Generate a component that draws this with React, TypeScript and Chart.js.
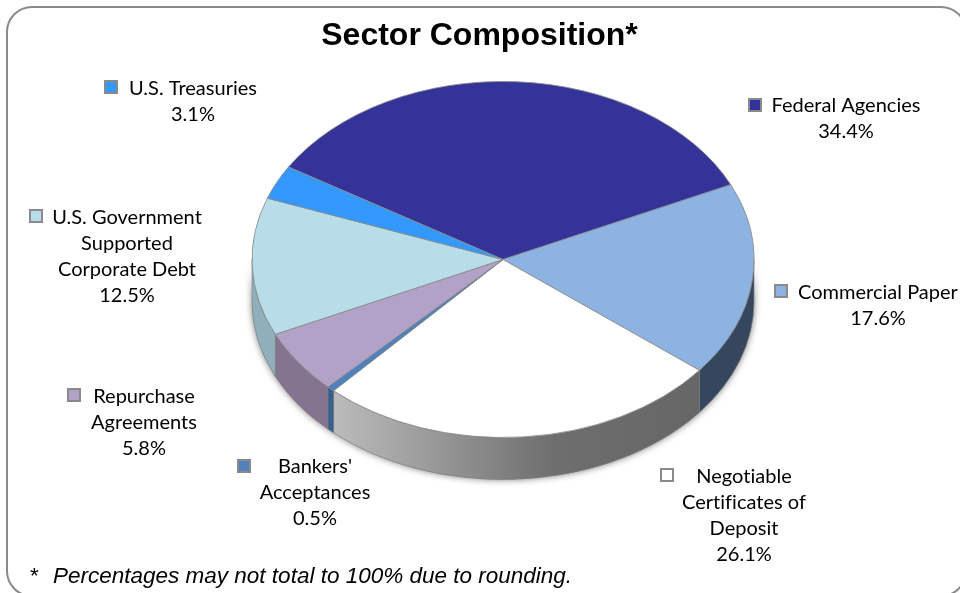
import React, { useEffect, useRef } from "react";
import { Chart, registerables } from "chart.js";

Chart.register(...registerables);

const categories = [
  "Federal Agencies",
  "Commercial Paper",
  "Negotiable Certificates of Deposit",
  "Bankers' Acceptances",
  "Repurchase Agreements",
  "U.S. Government Supported Corporate Debt",
  "U.S. Treasuries",
];
const shares = [34.4, 17.6, 26.1, 0.5, 5.8, 12.5, 3.1];
const topColours = ["#333399", "#8DB3E2", "#FFFFFF", "#4F81BD", "#B3A2C7", "#B7DEE8", "#3399FF"];
const wallColours = ["#252570", "#35475E", "#808080", "#38608F", "#85748F", "#8FB0BA", "#2A70B8"];
const labelLines = [
  ["Federal Agencies"],
  ["Commercial Paper"],
  ["Negotiable", "Certificates of", "Deposit"],
  ["Bankers'", "Acceptances"],
  ["Repurchase", "Agreements"],
  ["U.S. Government", "Supported", "Corporate Debt"],
  ["U.S. Treasuries"],
];
const labelCentreX = [846, 878, 744, 315, 144, 127, 193];
const labelFirstY = [106, 293, 477, 467, 397, 218, 89];
const keyX = [749, 775, 661, 238, 68, 30, 105];
const keyY = [99, 285, 469, 460, 389, 210, 81];

const titleText = "Sector Composition*";
const noteMark = "*";
const noteText = "Percentages may not total to 100% due to rounding.";

const SQUASH = 178 / 251;
const DEPTH = 42;
const LABEL_FONT = "20px Lato";
const LINE_GAP = 26;

const piePlugin = {
  id: "tiltedPie",
  beforeDraw(chart: any) {
    const ctx = chart.ctx;
    ctx.save();
    ctx.fillStyle = "#ffffff";
    ctx.fillRect(0, 0, chart.width, chart.height);
    ctx.strokeStyle = "#8a8a8a";
    ctx.lineWidth = 2;
    ctx.beginPath();
    ctx.roundRect(7, 7, 959, 589, 25);
    ctx.stroke();
    ctx.restore();
  },
  beforeDatasetsDraw(chart: any) {
    const ctx = chart.ctx;
    const arcs = chart.getDatasetMeta(0).data;
    const first = arcs[0];
    const cx = first.x;
    const cy = first.y;
    const rx = first.outerRadius;
    const ry = rx * SQUASH;

    ctx.save();
    ctx.shadowColor = "rgba(0,0,0,0.55)";
    ctx.shadowBlur = 7;
    ctx.fillStyle = "#777777";
    ctx.beginPath();
    ctx.ellipse(cx, cy, rx, ry, 0, 0, Math.PI);
    ctx.ellipse(cx, cy + DEPTH, rx, ry, 0, Math.PI, 0, true);
    ctx.closePath();
    ctx.fill();
    ctx.restore();

    arcs.forEach((arc: any, i: number) => {
      const a = Math.max(arc.startAngle, 0);
      const b = Math.min(arc.endAngle, Math.PI);
      if (b <= a) return;
      let fill: any = wallColours[i];
      if (i === 2) {
        const g = ctx.createLinearGradient(cx - rx * 0.68, 0, cx + rx * 0.8, 0);
        g.addColorStop(0, "#BCBCBC");
        g.addColorStop(0.6, "#6E6E6E");
        g.addColorStop(1, "#666666");
        fill = g;
      }
      ctx.save();
      ctx.fillStyle = fill;
      ctx.strokeStyle = "rgba(130,130,130,0.8)";
      ctx.lineWidth = 0.75;
      ctx.beginPath();
      ctx.ellipse(cx, cy, rx, ry, 0, a, b);
      ctx.ellipse(cx, cy + DEPTH, rx, ry, 0, b, a, true);
      ctx.closePath();
      ctx.fill();
      ctx.stroke();
      ctx.restore();
    });

    ctx.save();
    ctx.translate(0, cy);
    ctx.scale(1, SQUASH);
    ctx.translate(0, -cy);
  },
  afterDatasetsDraw(chart: any) {
    const ctx = chart.ctx;
    ctx.restore();

    ctx.save();
    ctx.fillStyle = "#000000";
    ctx.textBaseline = "middle";
    ctx.textAlign = "center";
    ctx.font = "bold 32px 'Liberation Sans'";
    ctx.fillText(titleText, 479.5, 36);

    ctx.font = LABEL_FONT;
    ctx.letterSpacing = "0.01px";
    categories.forEach((_, i) => {
      const lines = [...labelLines[i], shares[i].toFixed(1) + "%"];
      lines.forEach((line, j) => {
        ctx.fillText(line, labelCentreX[i], labelFirstY[i] + j * LINE_GAP);
      });
      ctx.fillStyle = topColours[i];
      ctx.strokeStyle = "#8a8a8a";
      ctx.lineWidth = 2;
      ctx.fillRect(keyX[i], keyY[i], 12, 12);
      ctx.strokeRect(keyX[i], keyY[i], 12, 12);
      ctx.fillStyle = "#000000";
    });
    ctx.letterSpacing = "0px";

    ctx.textAlign = "left";
    ctx.font = "italic 22.5px 'Liberation Sans'";
    ctx.fillText(noteMark, 29, 577);
    ctx.fillText(noteText, 53, 577);
    ctx.restore();
  },
};

export default function App() {
  const ref = useRef<HTMLCanvasElement | null>(null);
  useEffect(() => {
    document.body.style.margin = "0";
    const chart = new Chart(ref.current as HTMLCanvasElement, {
      type: "pie",
      data: {
        labels: categories,
        datasets: [
          {
            data: shares,
            backgroundColor: topColours,
            borderColor: "#8a8a8a",
            borderWidth: 1,
          },
        ],
      },
      options: {
        responsive: false,
        devicePixelRatio: 1,
        animation: false,
        rotation: -58.7,
        layout: { padding: { left: 46, right: 0, top: 8, bottom: 82 } },
        plugins: {
          legend: { display: false },
          title: { display: false },
          tooltip: { enabled: false },
        },
      },
      plugins: [piePlugin],
    } as any);
    return () => chart.destroy();
  }, []);
  return (
    <canvas
      ref={ref}
      width={960}
      height={593}
      style={{ display: "block", width: 960, height: 593 }}
    />
  );
}
